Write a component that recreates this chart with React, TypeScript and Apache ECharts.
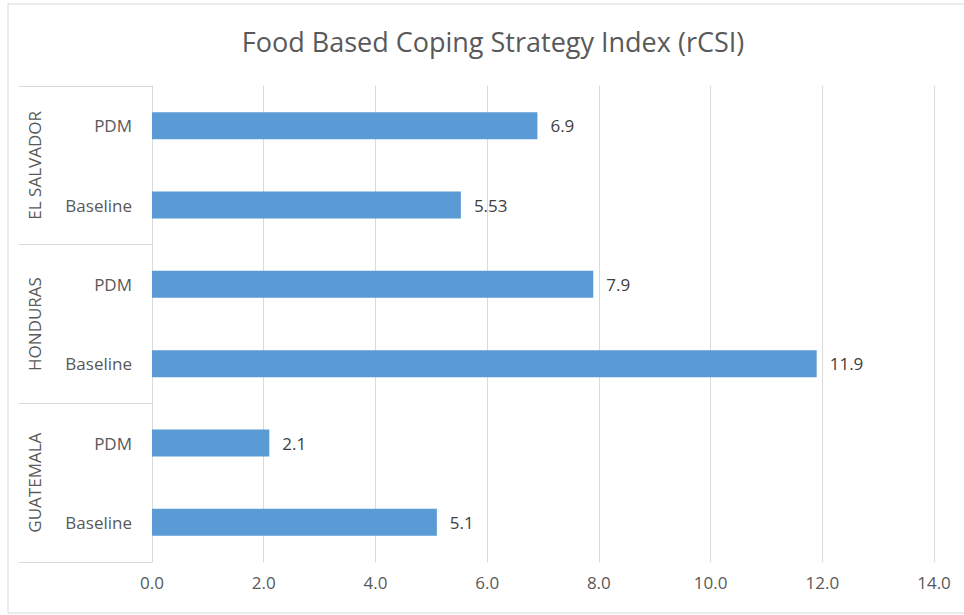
import React, { useEffect, useRef } from "react";
import * as echarts from "echarts";

const titleText = "Food Based Coping Strategy Index (rCSI)";
const countries = ["GUATEMALA", "HONDURAS", "EL SALVADOR"];
const rounds = ["Baseline", "PDM"];
const categoryKeys = [
  "GUATEMALA|Baseline",
  "GUATEMALA|PDM",
  "HONDURAS|Baseline",
  "HONDURAS|PDM",
  "EL SALVADOR|Baseline",
  "EL SALVADOR|PDM",
];
const values = [5.1, 2.1, 11.9, 7.9, 5.53, 6.9];
const valueLabels = ["5.1", "2.1", "11.9", "7.9", "5.53", "6.9"];

const FONT = "'Open Sans', Lato, sans-serif";
const GRID_COLOR = "#D9D9D9";
const TEXT_COLOR = "#595959";

export default function App() {
  const ref = useRef<HTMLDivElement>(null);
  useEffect(() => {
    if (!ref.current) return;
    const chart = echarts.init(ref.current, null, { renderer: "svg" });
    chart.setOption({
      animation: false,
      backgroundColor: "#ffffff",
      textStyle: { fontFamily: FONT },
      title: {
        text: titleText,
        left: 488,
        top: 23,
        textAlign: "center",
        textStyle: { fontFamily: FONT, fontSize: 27, fontWeight: "normal", color: TEXT_COLOR },
      },
      graphic: [
        {
          type: "rect",
          shape: { x: 8, y: 4, width: 980, height: 609 },
          style: { fill: "none", stroke: GRID_COLOR, lineWidth: 1 },
          silent: true,
        },
      ],
      grid: { left: 152, right: 30, top: 86, bottom: 53, containLabel: false },
      xAxis: {
        type: "value",
        min: 0,
        max: 14,
        interval: 2,
        axisLine: { show: false },
        axisTick: { show: false },
        splitLine: { show: true, lineStyle: { color: GRID_COLOR, width: 1 } },
        axisLabel: {
          color: TEXT_COLOR,
          fontSize: 17,
          fontFamily: FONT,
          margin: 12,
          formatter: (v: number) => v.toFixed(1),
        },
      },
      yAxis: [
        {
          type: "category",
          data: categoryKeys,
          axisLine: { show: true, lineStyle: { color: GRID_COLOR } },
          axisTick: { show: false },
          splitLine: { show: false },
          axisLabel: {
            color: TEXT_COLOR,
            fontSize: 17,
            fontFamily: FONT,
            margin: 20,
            formatter: (v: string) => {
              const r = v.split("|")[1];
              return rounds.includes(r) ? r : v;
            },
          },
        },
        {
          type: "category",
          data: countries,
          position: "left",
          offset: 0,
          axisLine: { show: true, lineStyle: { color: GRID_COLOR } },
          axisTick: { show: true, length: 133, lineStyle: { color: GRID_COLOR } },
          splitLine: { show: false },
          axisLabel: {
            color: TEXT_COLOR,
            fontSize: 17,
            fontFamily: FONT,
            rotate: 90,
            margin: 109,
          },
        },
      ],
      series: [
        {
          type: "bar",
          yAxisIndex: 0,
          data: values,
          barWidth: 27,
          itemStyle: { color: "#5B9BD5" },
          label: {
            show: true,
            position: "right",
            distance: 13,
            color: "#404040",
            fontSize: 17,
            fontFamily: FONT,
            formatter: (p: any) => valueLabels[p.dataIndex],
          },
        },
      ],
    });
    return () => chart.dispose();
  }, []);
  return <div ref={ref} style={{ width: 964, height: 615, position: "absolute", left: 0, top: 0 }} />;
}
